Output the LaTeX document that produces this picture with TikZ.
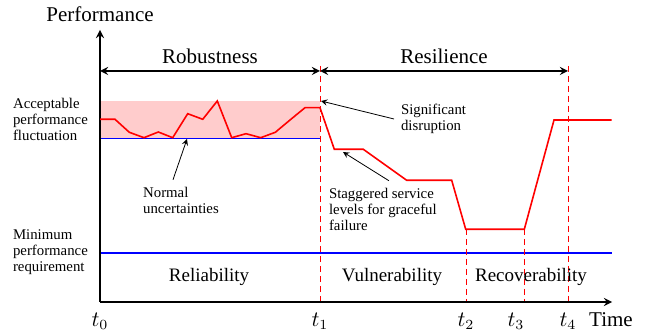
\documentclass[tikz,border=0pt]{standalone}
\usepackage{fontspec}
\setmainfont{Liberation Serif}
\usetikzlibrary{positioning}

\begin{document}
\begin{tikzpicture}[x=0.5pt, y=-0.5pt, font=\fontsize{10.5}{12}\selectfont,
    axis/.style={thick, ->, >=stealth},
    span/.style={thick, <->, >=stealth},
    tline/.style={red, dash pattern=on 3pt off 2pt},
    perf/.style={red, thick},
    level/.style={blue, thick},
    phase/.style={font=\fontsize{9.5}{11}\selectfont},
    note/.style={font=\fontsize{7.4}{8}\selectfont, align=left},
    pointer/.style={->, >=stealth},
  ]
    \useasboundingbox (0,0) rectangle (652,335);

    % acceptable band
    \fill[red!20] (100,101) rectangle (320,138);
    \draw[blue] (100,138) -- (320,138);
    \draw[level] (100,253) -- (612,253);

    % time marks
    \foreach \x/\y in {320/66, 466/229, 524/229, 568/66}
      \draw[tline] (\x,\y) -- (\x,302);
    \foreach \i/\x in {0/100, 1/320, 2/466, 3/516, 4/568}
      \node (t\i) at (\x,321) {$t_{\i}$};

    % axes
    \coordinate (o) at (100,302);
    \coordinate (ytop) at (100,30);
    \coordinate (xend) at (612,302);
    \draw[axis] (o) -- (ytop);
    \draw[axis] (o) -- (xend);
    \node (perfl) at (100,14) {Performance};
    \node (timel) at (611,320) {Time};

    % performance curve
    \draw[perf] (100,119.3) -- (115,119.3) -- (129.3,132.3) -- (144,137.7)
      -- (158.3,132) -- (172.7,137.7) -- (187.7,113.7) -- (202.7,119.3)
      -- (217.3,101) -- (231.7,137.7) -- (246,133.7) -- (260.7,137.7)
      -- (275.3,132.3) -- (290,120) -- (305,107.7) -- (320,107.7)
      -- (334.3,149.3) -- (363.3,149.3) -- (406.7,180.3) -- (451.7,180.3)
      -- (465.7,229.3) -- (524.3,229.3) -- (554,120) -- (611.7,120);

    % spans
    \coordinate (r0) at (100,71);
    \coordinate (r1) at (320,71);
    \coordinate (r2) at (568,71);
    \draw[span] (r0) -- node[above] (robl) {Robustness} (r1);
    \draw[span] (r1) -- node[above] (resl) {Resilience} (r2);

    % phases
    \node[phase] (reli) at (209,277) {Reliability};
    \node[phase] (vuln) at (392,277) {Vulnerability};
    \node[phase] (reco) at (531,277) {Recoverability};

    % notes
    \node[note, anchor=west] (accept) at (6,119) {Acceptable\\performance\\fluctuation};
    \node[note, anchor=west] (minreq) at (6,252) {Minimum\\performance\\requirement};
    \node[note] (normal) at (181,200) {Normal\\uncertainties};
    \node[note, anchor=west] (sig) at (394,119) {Significant\\disruption};
    \node[note, anchor=west] (stag) at (322,209) {Staggered service\\levels for graceful\\failure};

    \coordinate (calm) at (187,139);
    \coordinate (hit) at (321,101);
    \coordinate (drop) at (343,152);
    \draw[pointer] ([xshift=-4pt]normal.north) -- (calm);
    \draw[pointer] (sig.west) -- (hit);
    \draw[pointer] ([xshift=3pt]stag.north) -- (drop);
  \end{tikzpicture}
\end{document}
